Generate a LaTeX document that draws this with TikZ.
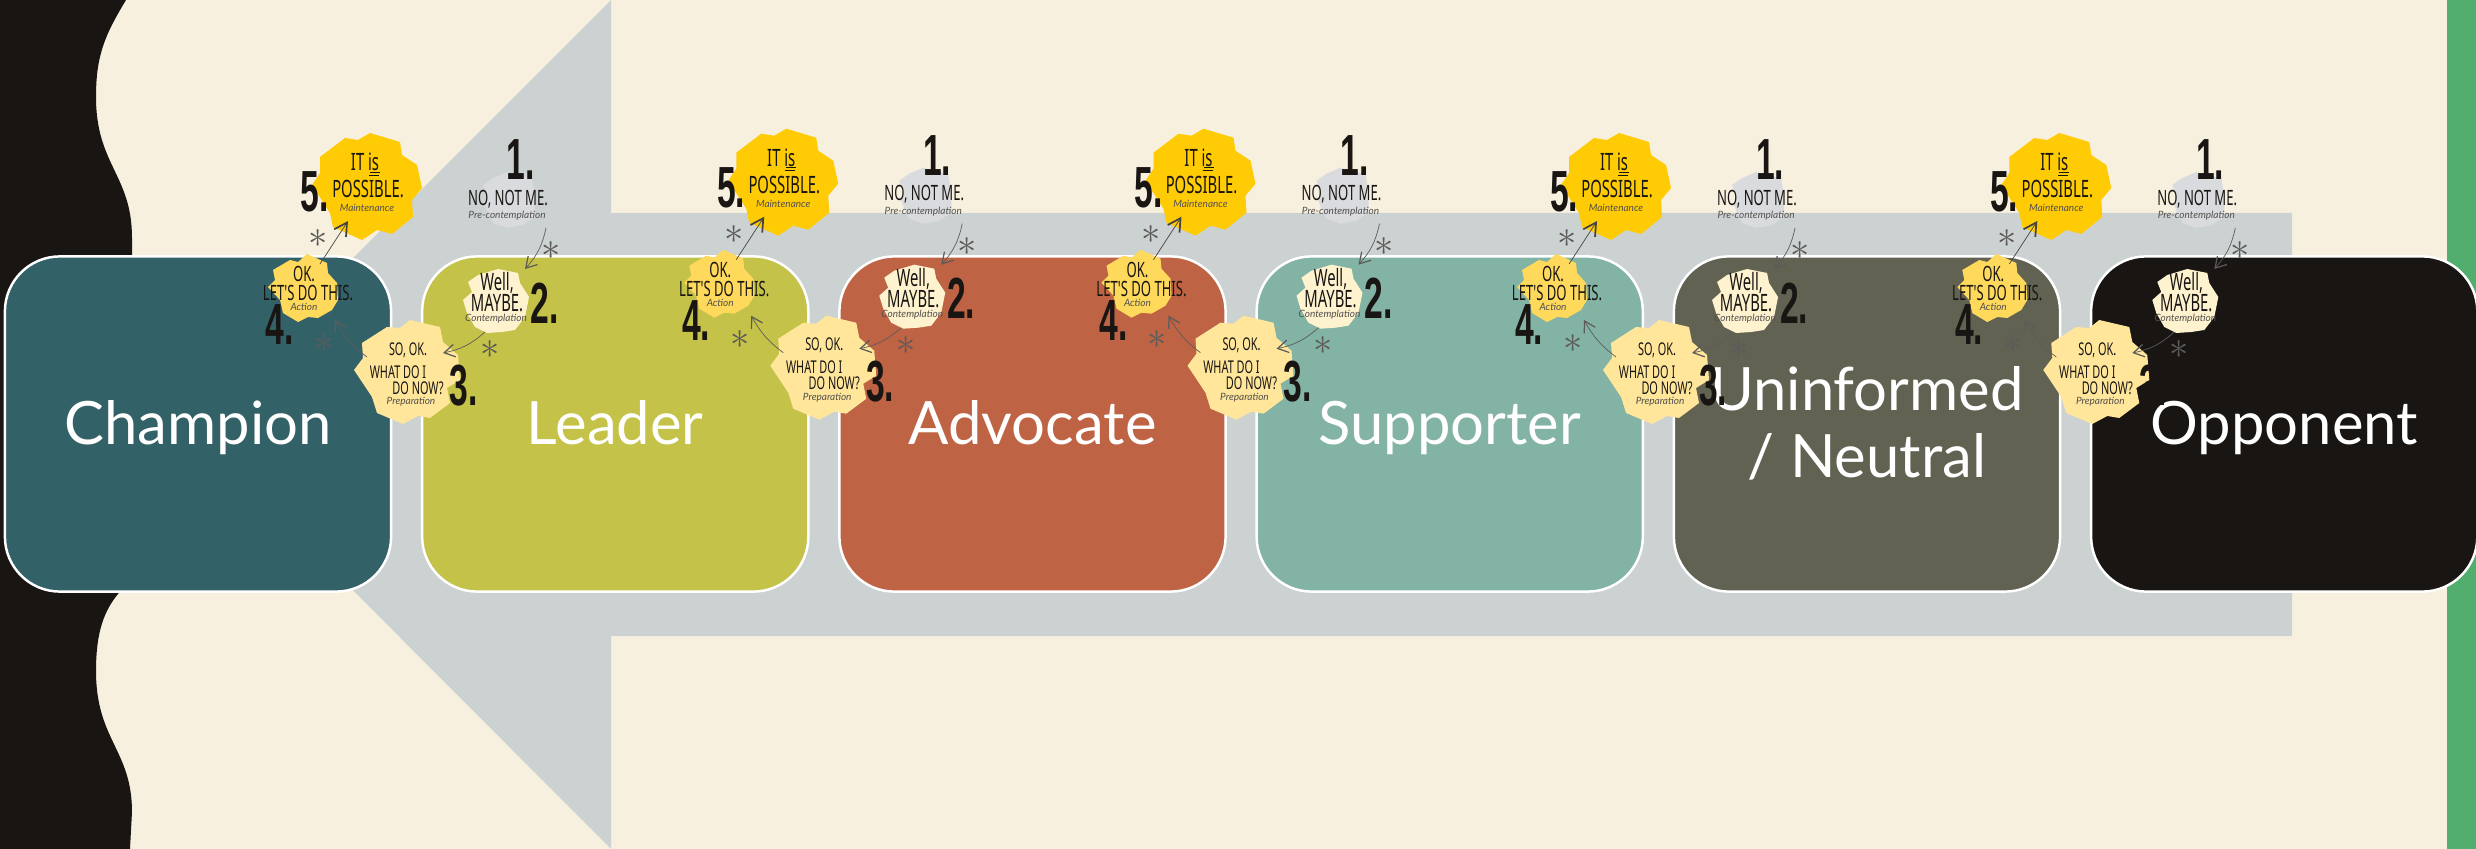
\documentclass[tikz,border=0pt]{standalone}
\usepackage{fontspec}
\usetikzlibrary{arrows.meta}
\setmainfont{Lato}
\newfontfamily\handfont[FakeStretch=0.62]{Noto Sans}
\newfontfamily\numfont[FakeStretch=0.58]{Liberation Sans}
\definecolor{paper}{HTML}{F7F0DF}
\definecolor{arrowgrey}{HTML}{CCD2D2}
\definecolor{inkblack}{HTML}{181513}
\definecolor{stripgreen}{HTML}{52AE6E}
\definecolor{gold}{HTML}{FFCB05}
\definecolor{pale}{HTML}{D9DBDE}
\definecolor{cream}{HTML}{FFF3CF}
\definecolor{sand}{HTML}{FFE69A}
\definecolor{amber}{HTML}{FFD95B}
\definecolor{champcol}{HTML}{336168}
\definecolor{leadcol}{HTML}{C4C248}
\definecolor{advocol}{HTML}{BF6345}
\definecolor{suppcol}{HTML}{82B3A5}
\definecolor{neutcol}{HTML}{626252}

\newcommand{\boxstrut}{\rule[-3.6pt]{0pt}{18.6pt}}

% one round of the five stages, #1 = name suffix, #2 and #3 = shift in cm
\newcommand{\stagegroup}[3]{
  \begin{scope}[xshift=#2cm, yshift=#3cm]
  \fill[pale] (483,185)--(493,178)--(507,172)--(517,175)--(532,178)--(535,197)--(535,217)--(523,225)--(507,228)--(493,223)--(488,213)--(485,205)--(487,195)--cycle;
  \fill[cream] (498,269)--(518,273)--(520,283)--(529,297)--(525,317)--(515,330)--(502,332)--(487,333)--(475,327)--(467,313)--(463,300)--(472,292)--(468,282)--(478,275)--cycle;
  \fill[sand] (410,320)--(440,327)--(443,342)--(458,355)--(460,380)--(447,388)--(450,403)--(430,418)--(418,416)--(403,424)--(377,413)--(372,397)--(354,370)--(363,358)--(362,343)--(387,327)--(400,328)--cycle;
  \fill[amber] (307,254)--(327,263)--(328,273)--(337,283)--(338,300)--(332,310)--(318,318)--(308,317)--(298,322)--(283,313)--(280,300)--(268,287)--(275,280)--(273,270)--(290,260)--(298,262)--cycle;
  \fill[gold] (370,133)--(400,142)--(402,155)--(417,165)--(422,188)--(412,200)--(413,217)--(392,234)--(377,230)--(362,240)--(333,227)--(330,213)--(312,185)--(320,173)--(320,157)--(345,138)--(358,140)--cycle;

  \node (numa#1) [num] at (521,160) {1.};
  \node (numb#1) [num] at (545,303) {2.};
  \node (numc#1) [num] at (464,386) {3.};
  \node (numd#1) [num] at (280,325) {4.};
  \node (nume#1) [num] at (315,192) {5.};

  \node (saya#1) [hand] at (508,199) {NO, NOT ME.};
  \node (tagA#1) [tag] at (507,216) {Pre-contemplation};
  \node (sayb#1) [handbig] at (497,283) {Well,};
  \node (saybb#1) [handbig] at (497,303) {MAYBE.};
  \node (tagB#1) [tag] at (496,319) {Contemplation};
  \node (sayc#1) [handsmall] at (408,350) {SO, OK.};
  \node (saycc#1) [handsmall] at (398,372) {WHAT DO I};
  \node (sayccc#1) [handsmall] at (418,388) {DO NOW?};
  \node (tagC#1) [tag] at (411,402) {Preparation};
  \node (sayd#1) [hand] at (304,274) {OK.};
  \node (saydd#1) [hand] at (308,293) {LET'S DO THIS.};
  \node (tagD#1) [tag] at (304,307) {Action};
  \node (saye#1) [handbig] at (365,162) {IT is};
  \node (sayee#1) [handbig] at (368,189) {POSSIBLE.};
  \node (tagE#1) [tag] at (367,208) {Maintenance};
  \draw[inkblack, line width=0.2pt] (370,172) -- (380,172) (369,175) -- (379,175);

  \node (stara#1) [star] at (551,251) {$\ast$};
  \node (starb#1) [star] at (490,350) {$\ast$};
  \node (starc#1) [star] at (324,344) {$\ast$};
  \node (stard#1) [star] at (318,239) {$\ast$};

  \coordinate (fa#1) at (546,228);
  \coordinate (ta#1) at (525,269);
  \coordinate (fb#1) at (485,332);
  \coordinate (tb#1) at (443,353);
  \coordinate (fc#1) at (367,357);
  \coordinate (tc#1) at (335,320);
  \coordinate (fd#1) at (320,264);
  \coordinate (td#1) at (348,221);
  \draw[link]  (fa#1) to[bend left=15] (ta#1);
  \draw[link]  (fb#1) to[bend left=15] (tb#1);
  \draw[link]  (fc#1) to[bend left=12] (tc#1);
  \draw[boldlink] (fd#1) -- (td#1);
  \end{scope}
}

\begin{document}
\begin{tikzpicture}[x=0.01cm, y=-0.01cm,
    stage/.style = {rectangle, rounded corners=0.55cm, draw=white, line width=0.7pt,
minimum width=3.86cm, minimum height=3.35cm, inner sep=0pt,
text=white, align=center, font=\fontsize{17}{19}\selectfont},
    num/.style = {text=inkblack, inner sep=0pt, font=\numfont\bfseries\fontsize{16.5}{17}\selectfont},
    hand/.style = {text=inkblack, inner sep=0pt, font=\handfont\fontsize{6}{7}\selectfont},
    handbig/.style = {hand, font=\handfont\fontsize{6.8}{7}\selectfont},
    handsmall/.style = {hand, font=\handfont\fontsize{5}{6}\selectfont},
    tag/.style = {text=inkblack!75, inner sep=0pt, font=\itshape\fontsize{2.85}{3.5}\selectfont},
    star/.style = {text=inkblack!70, inner sep=0pt, font=\fontsize{11}{11}\selectfont},
    link/.style = {-{Straight Barb[length=3pt,width=3.6pt,line width=0.35pt]}, line width=0.2pt, inkblack!70},
    boldlink/.style = {-{Straight Barb[length=3.6pt,width=4pt,line width=0.5pt]}, line width=0.2pt, inkblack!80},
    node distance=4.17cm
]

  \useasboundingbox (0,0) rectangle (2476,849);
  \fill[paper] (0,0) rectangle (2476,849);
  \fill[stripgreen] (2447,0) rectangle (2476,849);
  % wavy edge on the left
  \fill[inkblack] (0,0)--(126,0) .. controls (105,35) and (96,55) .. (96,97) .. controls (96,165) and (132,175) .. (132,238) .. controls (132,400) and (150,560) .. (118,594) .. controls (105,610) and (96,630) .. (96,671) .. controls (96,740) and (132,750) .. (132,812) -- (130,849) -- (0,849) -- cycle;
  \fill[arrowgrey] (187,424)--(611,0)--(611,213)--(2292,213)--(2292,636)--(611,636)--(611,849)--cycle;

  \node (champion)   [stage, fill=champcol] at (198,424) {\boxstrut Champion};
  \node (leader)     [stage, fill=leadcol, right of=champion] {\boxstrut Leader};
  \node (advocate)   [stage, fill=advocol, right of=leader] {\boxstrut Advocate};
  \node (supporter)  [stage, fill=suppcol, right of=advocate] {\boxstrut Supporter};
  \node (uninformed) [stage, fill=neutcol, right of=supporter] {\boxstrut Uninformed\\\boxstrut / Neutral};
  \node (opponent)   [stage, fill=inkblack, right of=uninformed] {\boxstrut Opponent};

  \stagegroup{one}{0}{0}
  \stagegroup{two}{4.16}{0.043}
  \stagegroup{three}{8.33}{0.043}
  \stagegroup{four}{12.483}{0}
  \stagegroup{five}{16.883}{0}

\end{tikzpicture}
\end{document}
